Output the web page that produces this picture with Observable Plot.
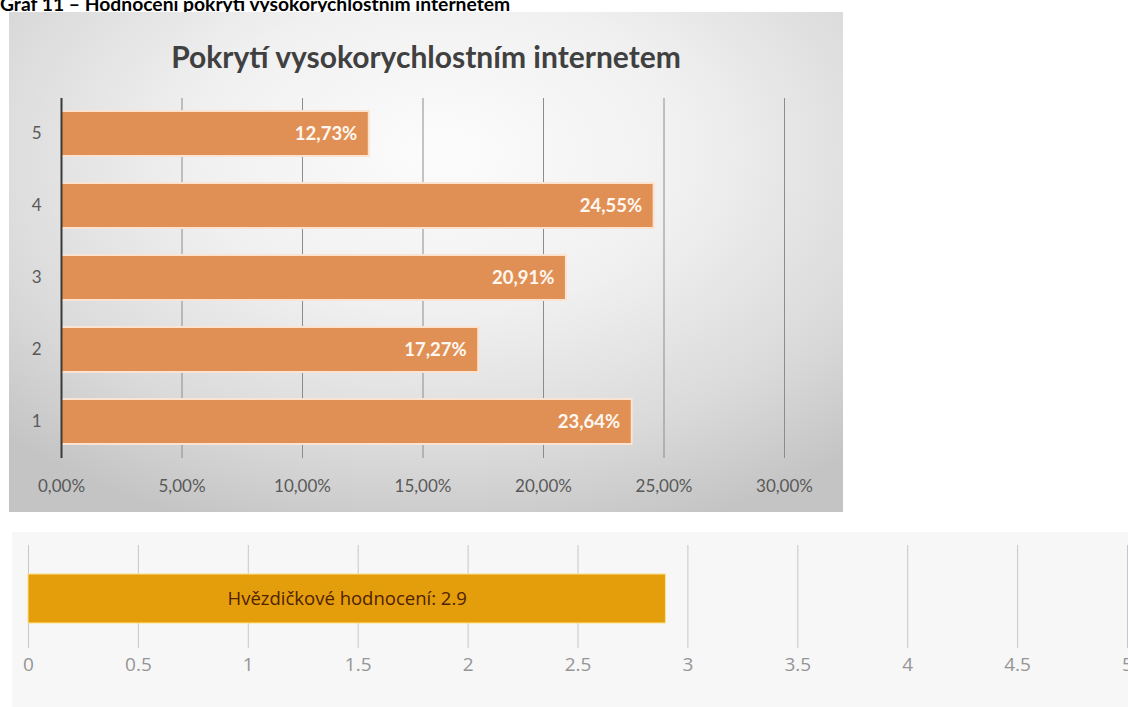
<!DOCTYPE html>
<html><head><meta charset="utf-8">
<script src="https://cdn.jsdelivr.net/npm/d3@7"></script>
<script src="https://cdn.jsdelivr.net/npm/@observablehq/plot@0.6"></script>
<style>
body{margin:0;background:#fff;width:1128px;height:707px;overflow:hidden;position:relative;font-family:Lato,sans-serif}
#cap{position:absolute;left:0;top:-6px;font:bold 19.3px/19px Lato,sans-serif;color:#000;white-space:nowrap}
#topBox{position:absolute;left:9px;top:12px;width:834px;height:500px;background:radial-gradient(ellipse 75% 80% at 52% 28%,#fcfcfc 0%,#f0f0f0 40%,#dadada 75%,#c4c4c4 100%)}
#title{position:absolute;left:0;top:29px;width:834px;text-align:center;font:bold 30px/30px Lato,sans-serif;color:#404040}
#topPlot{position:absolute;left:0;top:70px}
#bot{position:absolute;left:12px;top:532px;width:1116px;height:175px;background:#f7f7f7}
</style></head>
<body>
<div id="cap">Graf 11 – Hodnocení pokrytí vysokorychlostním internetem</div>
<div id="topBox"><div id="title">Pokrytí vysokorychlostním internetem</div><div id="topPlot"></div></div>
<div id="bot"></div>
<script>
const categories = ["1", "2", "3", "4", "5"];
const shares = [23.64, 17.27, 20.91, 24.55, 12.73];
const shareTicks = [0, 5, 10, 15, 20, 25, 30];
const ratingLabel = "Hvězdičkové hodnocení";
const ratingValues = [2.9];
const ratingTicks = [0, 0.5, 1, 1.5, 2, 2.5, 3, 3.5, 4, 4.5, 5];

const fmt = v => v.toFixed(2).replace(".", ",") + "%";
const shareData = categories.map((c, i) => ({c, v: shares[i]}));

const sharePlot = Plot.plot({
  width: 834, height: 430,
  marginTop: 16, marginBottom: 54, marginLeft: 52, marginRight: 59,
  style: {background: "transparent", fontFamily: "Lato, sans-serif", fontSize: "17px", color: "#595959", overflow: "visible"},
  x: {domain: [0, 30], ticks: shareTicks, tickFormat: fmt, tickSize: 0, tickPadding: 21, label: null},
  y: {domain: categories.slice().reverse(), paddingInner: 0.4, paddingOuter: 0.2, tickSize: 0, tickPadding: 20, label: null},
  marks: [
    Plot.ruleX(shareTicks.slice(1), {stroke: "#8c8c8c", strokeWidth: 1}),
    Plot.barX(shareData, {x: "v", y: "c", fill: "#fbe3cf", insetTop: -2, insetBottom: -2, insetRight: -2}),
    Plot.barX(shareData, {x: "v", y: "c", fill: "#df8b4e", fillOpacity: 0.95}),
    Plot.ruleX([0], {stroke: "#3a3a3a", strokeWidth: 2}),
    Plot.text(shareData, {x: "v", y: "c", text: d => fmt(d.v), textAnchor: "end", dx: -11, fill: "#fff8f2", fontWeight: "bold", fontSize: 18.5})
  ]
});
document.getElementById("topPlot").appendChild(sharePlot);

const ratingPlot = Plot.plot({
  width: 1116, height: 175,
  marginTop: 13, marginBottom: 59, marginLeft: 16, marginRight: 1,
  style: {background: "transparent", fontFamily: "'Open Sans', sans-serif", fontSize: "19px", color: "#959595", overflow: "visible"},
  x: {domain: [0, 5], label: null},
  marks: [
    Plot.ruleX(ratingTicks, {stroke: "#c6c6cc", strokeWidth: 1}),
    Plot.axisX({ticks: ratingTicks, tickFormat: d => String(d), tickSize: 0, tickPadding: 9, fontSize: 19, fill: "#959595", label: null}),
    Plot.barX(ratingValues, {x: d => d, fill: "#e59e0b", stroke: "#fbe28a", strokeWidth: 1, insetTop: 29, insetBottom: 25}),
    Plot.text(ratingValues, {x: d => d / 2, text: d => `${ratingLabel}: ${d}`, fill: "#4f2200", fontSize: 18.5, dy: 2.5})
  ]
});
document.getElementById("bot").appendChild(ratingPlot);
</script>
</body></html>
